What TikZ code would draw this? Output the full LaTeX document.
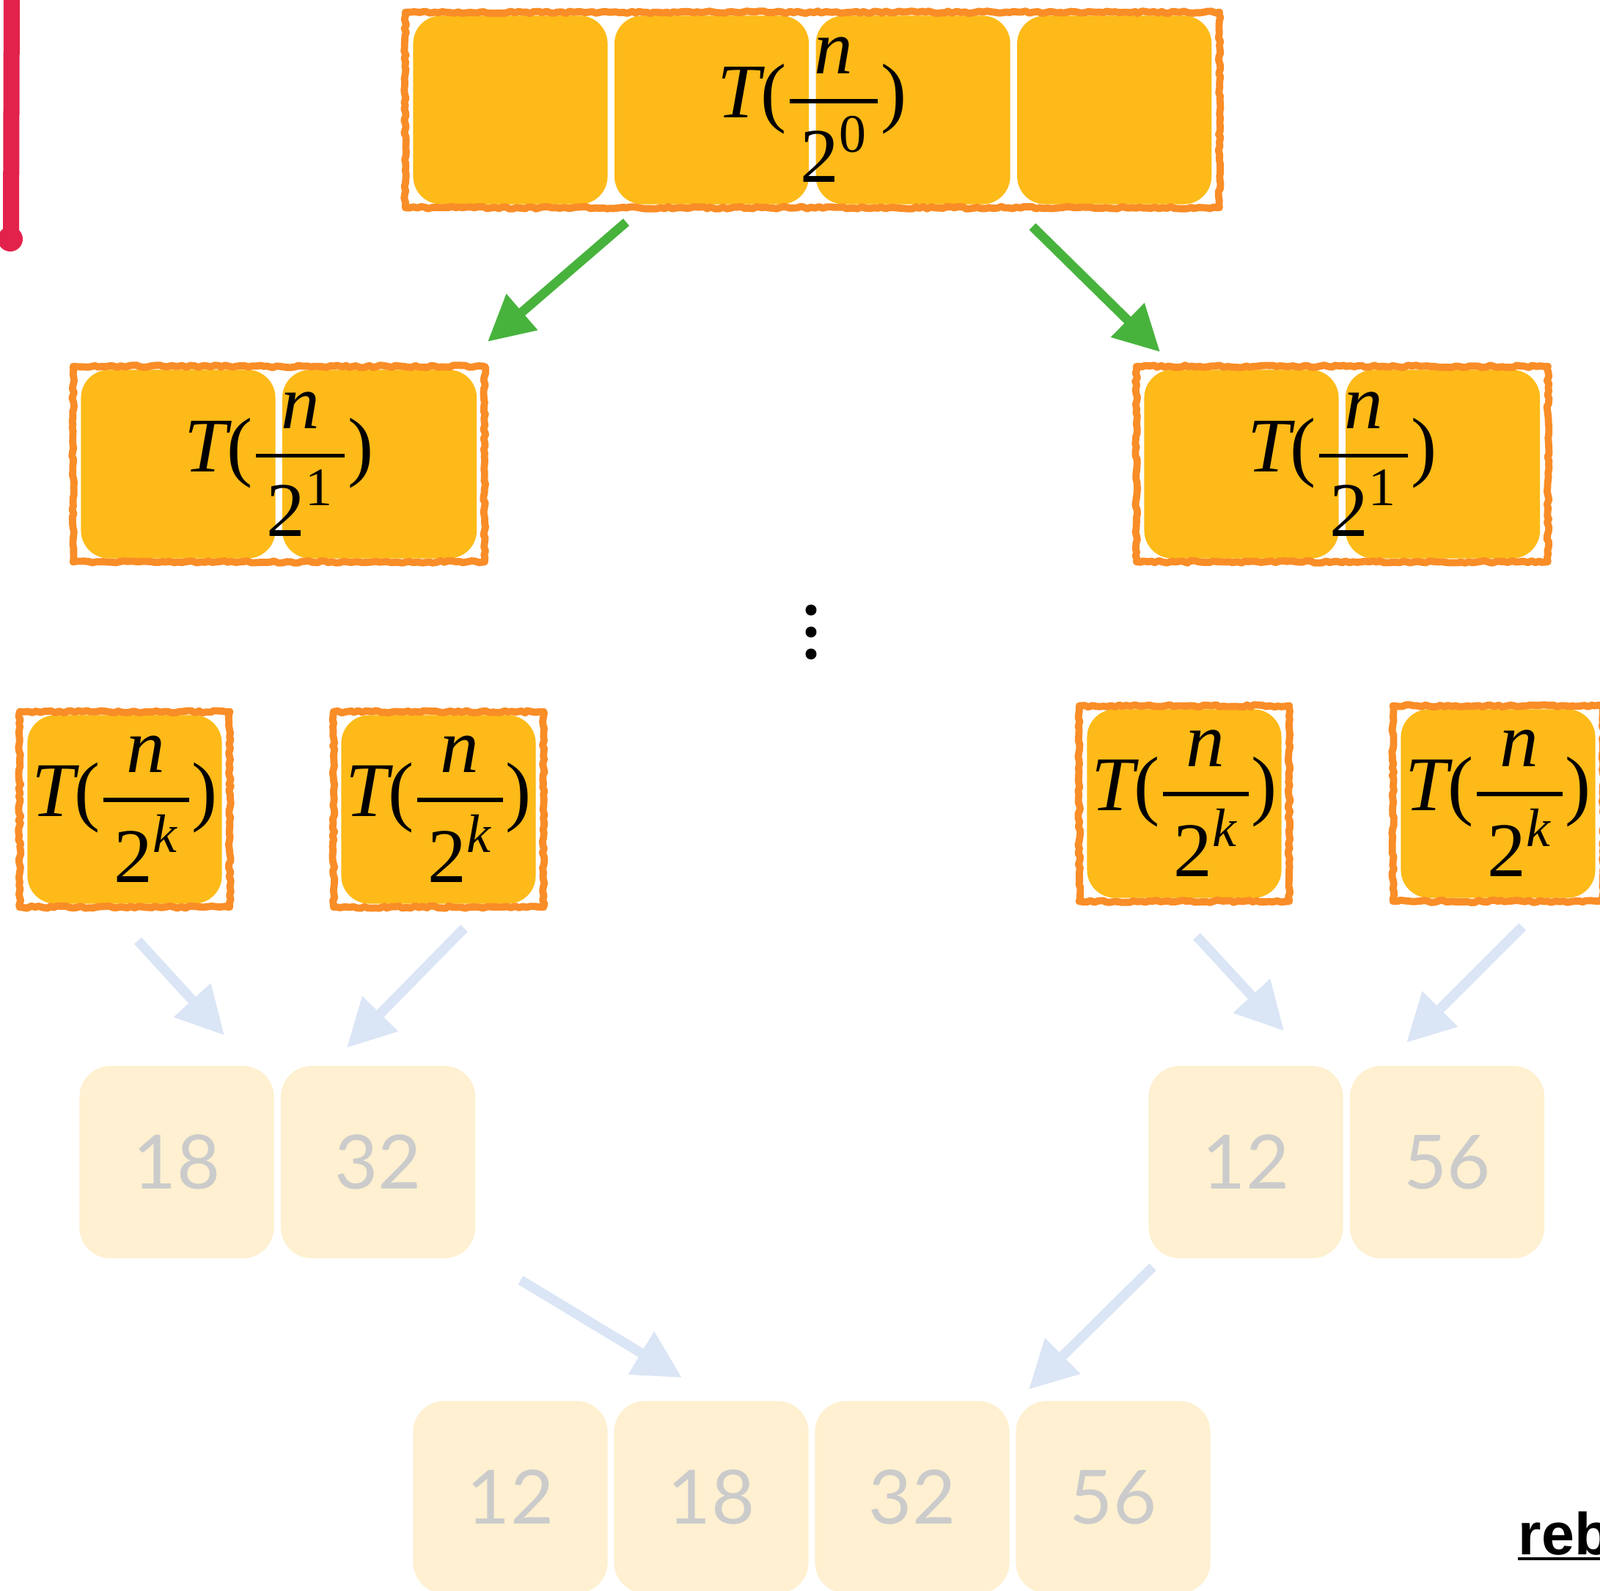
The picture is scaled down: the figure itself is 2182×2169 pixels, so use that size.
\documentclass[tikz,border=0pt]{standalone}
\usepackage{amsmath}
\usepackage{fontspec}
\setmainfont{Liberation Serif}
\newfontfamily\numfont{Lato}
\newfontfamily\rebfont{Liberation Sans}
\usetikzlibrary{arrows.meta, positioning, fit, decorations.pathmorphing}
\definecolor{cellgold}{HTML}{FDBA18}
\definecolor{palegold}{HTML}{FEF0D0}
\definecolor{crayon}{HTML}{F98D27}
\definecolor{numgray}{HTML}{CBCBCB}
\definecolor{leafgreen}{HTML}{47B33C}
\definecolor{mistblue}{HTML}{DAE5F5}
\definecolor{crimson}{HTML}{E2224B}

\newcommand{\Tfrac}[1]{$\textit{T}\text{(}\genfrac{}{}{1.6pt}{0}{\textit{n}}{\,\text{2}^{#1}\,}\text{)}$}

\tikzset{
  cell/.style={fill=cellgold, rounded corners=0.38cm, minimum width=2.65cm,
    minimum height=2.57cm, inner sep=0pt},
  numcell/.style={fill=palegold, rounded corners=0.42cm, minimum width=2.65cm,
    minimum height=2.62cm, inner sep=0pt, text=numgray,
    font=\numfont\fontsize{29}{32}\selectfont},
  frame/.style={draw=crayon, line width=2.8pt, line join=round,
    inner xsep=0.1cm, inner ysep=0.04cm,
    decorate, decoration={random steps, segment length=1.5pt, amplitude=0.45pt}},
  tlabel/.style={font=\fontsize{30}{34}\selectfont, inner sep=0pt},
  splitarrow/.style={draw=leafgreen, line width=3.6pt,
    -{Triangle[length=6.2mm, width=6.2mm]}},
  mergearrow/.style={draw=mistblue, line width=3.8pt,
    -{Triangle[length=6.5mm, width=6.5mm]}},
}

\begin{document}
\begin{tikzpicture}[x=0.01cm, y=-0.01cm]
\useasboundingbox (0,0) rectangle (2182,2169);

% Red marker on the left edge
\draw[crimson, line width=0.22cm, line cap=round] (16,-10) -- (15,318);
\fill[crimson] (14,326) circle (0.17cm);

% Level 0: whole array
\node[cell] (t1) at (696,150) {};
\node[cell, right=0.08cm of t1] (t2) {};
\node[cell, right=0.08cm of t2] (t3) {};
\node[cell, right=0.08cm of t3] (t4) {};
\node[frame, fit=(t1)(t4)] (top) {};
\node[tlabel] (toplbl) at (top) {\Tfrac{\text{0}}};

% Level 1: two halves
\node[cell] (l1) at (243,633) {};
\node[cell, right=0.08cm of l1] (l2) {};
\node[frame, fit=(l1)(l2)] (lf) {};
\node[tlabel] (lflbl) at (lf) {\Tfrac{\text{1}}};

\node[cell] (r1) at (1693,633) {};
\node[cell, right=0.08cm of r1] (r2) {};
\node[frame, fit=(r1)(r2)] (rf) {};
\node[tlabel] (rflbl) at (rf) {\Tfrac{\text{1}}};

% Dots between levels
\foreach \y in {832,862,892}
  \fill (1106,\y) circle (0.075cm);

% Level k: single elements
\node[cell] (k1) at (170,1104) {};
\node[cell] (k2) at (598,1104) {};
\node[cell] (k3) at (1615,1096) {};
\node[cell] (k4) at (2043,1096) {};
\foreach \i in {1,...,4} {
  \node[frame, fit=(k\i)] (kf\i) {};
  \node[tlabel] (kl\i) at (kf\i) {\Tfrac{\textit{k}}};
}

% Merged pairs
\node[numcell] (p1) at (241,1585) {18};
\node[numcell, right=0.08cm of p1] (p2) {32};
\node[numcell] (q1) at (1699,1585) {12};
\node[numcell, right=0.08cm of q1] (q2) {56};

% Final merged array
\foreach \v [count=\i] in {12,18,32,56}
  \node[numcell] (m\i) at ({696+274*(\i-1)},2042) {\v};

% Split arrows
\coordinate (gl0) at (854,303);  \coordinate (gl1) at (665,466);
\coordinate (gr0) at (1408,309); \coordinate (gr1) at (1582,480);
\draw[splitarrow] (gl0) -- (gl1);
\draw[splitarrow] (gr0) -- (gr1);

% Merge arrows
\coordinate (a0) at (188,1283);  \coordinate (a1) at (306,1412);
\coordinate (b0) at (633,1266);  \coordinate (b1) at (473,1429);
\coordinate (c0) at (1632,1277); \coordinate (c1) at (1751,1406);
\coordinate (d0) at (2076,1264); \coordinate (d1) at (1918,1422);
\coordinate (e0) at (710,1746);  \coordinate (e1) at (930,1879);
\coordinate (f0) at (1572,1728); \coordinate (f1) at (1403,1895);
\foreach \s in {a,b,c,d,e,f}
  \draw[mergearrow] (\s0) -- (\s1);

% Cut-off caption
\node[font=\rebfont\bfseries\fontsize{23}{26}\selectfont, inner sep=0pt,
  anchor=base west] (reb) at (2070,2120) {reb};
\draw[line width=1.2pt] ([yshift=-0.06cm]reb.base west) -- ([yshift=-0.06cm]reb.base east);

\end{tikzpicture}
\end{document}
